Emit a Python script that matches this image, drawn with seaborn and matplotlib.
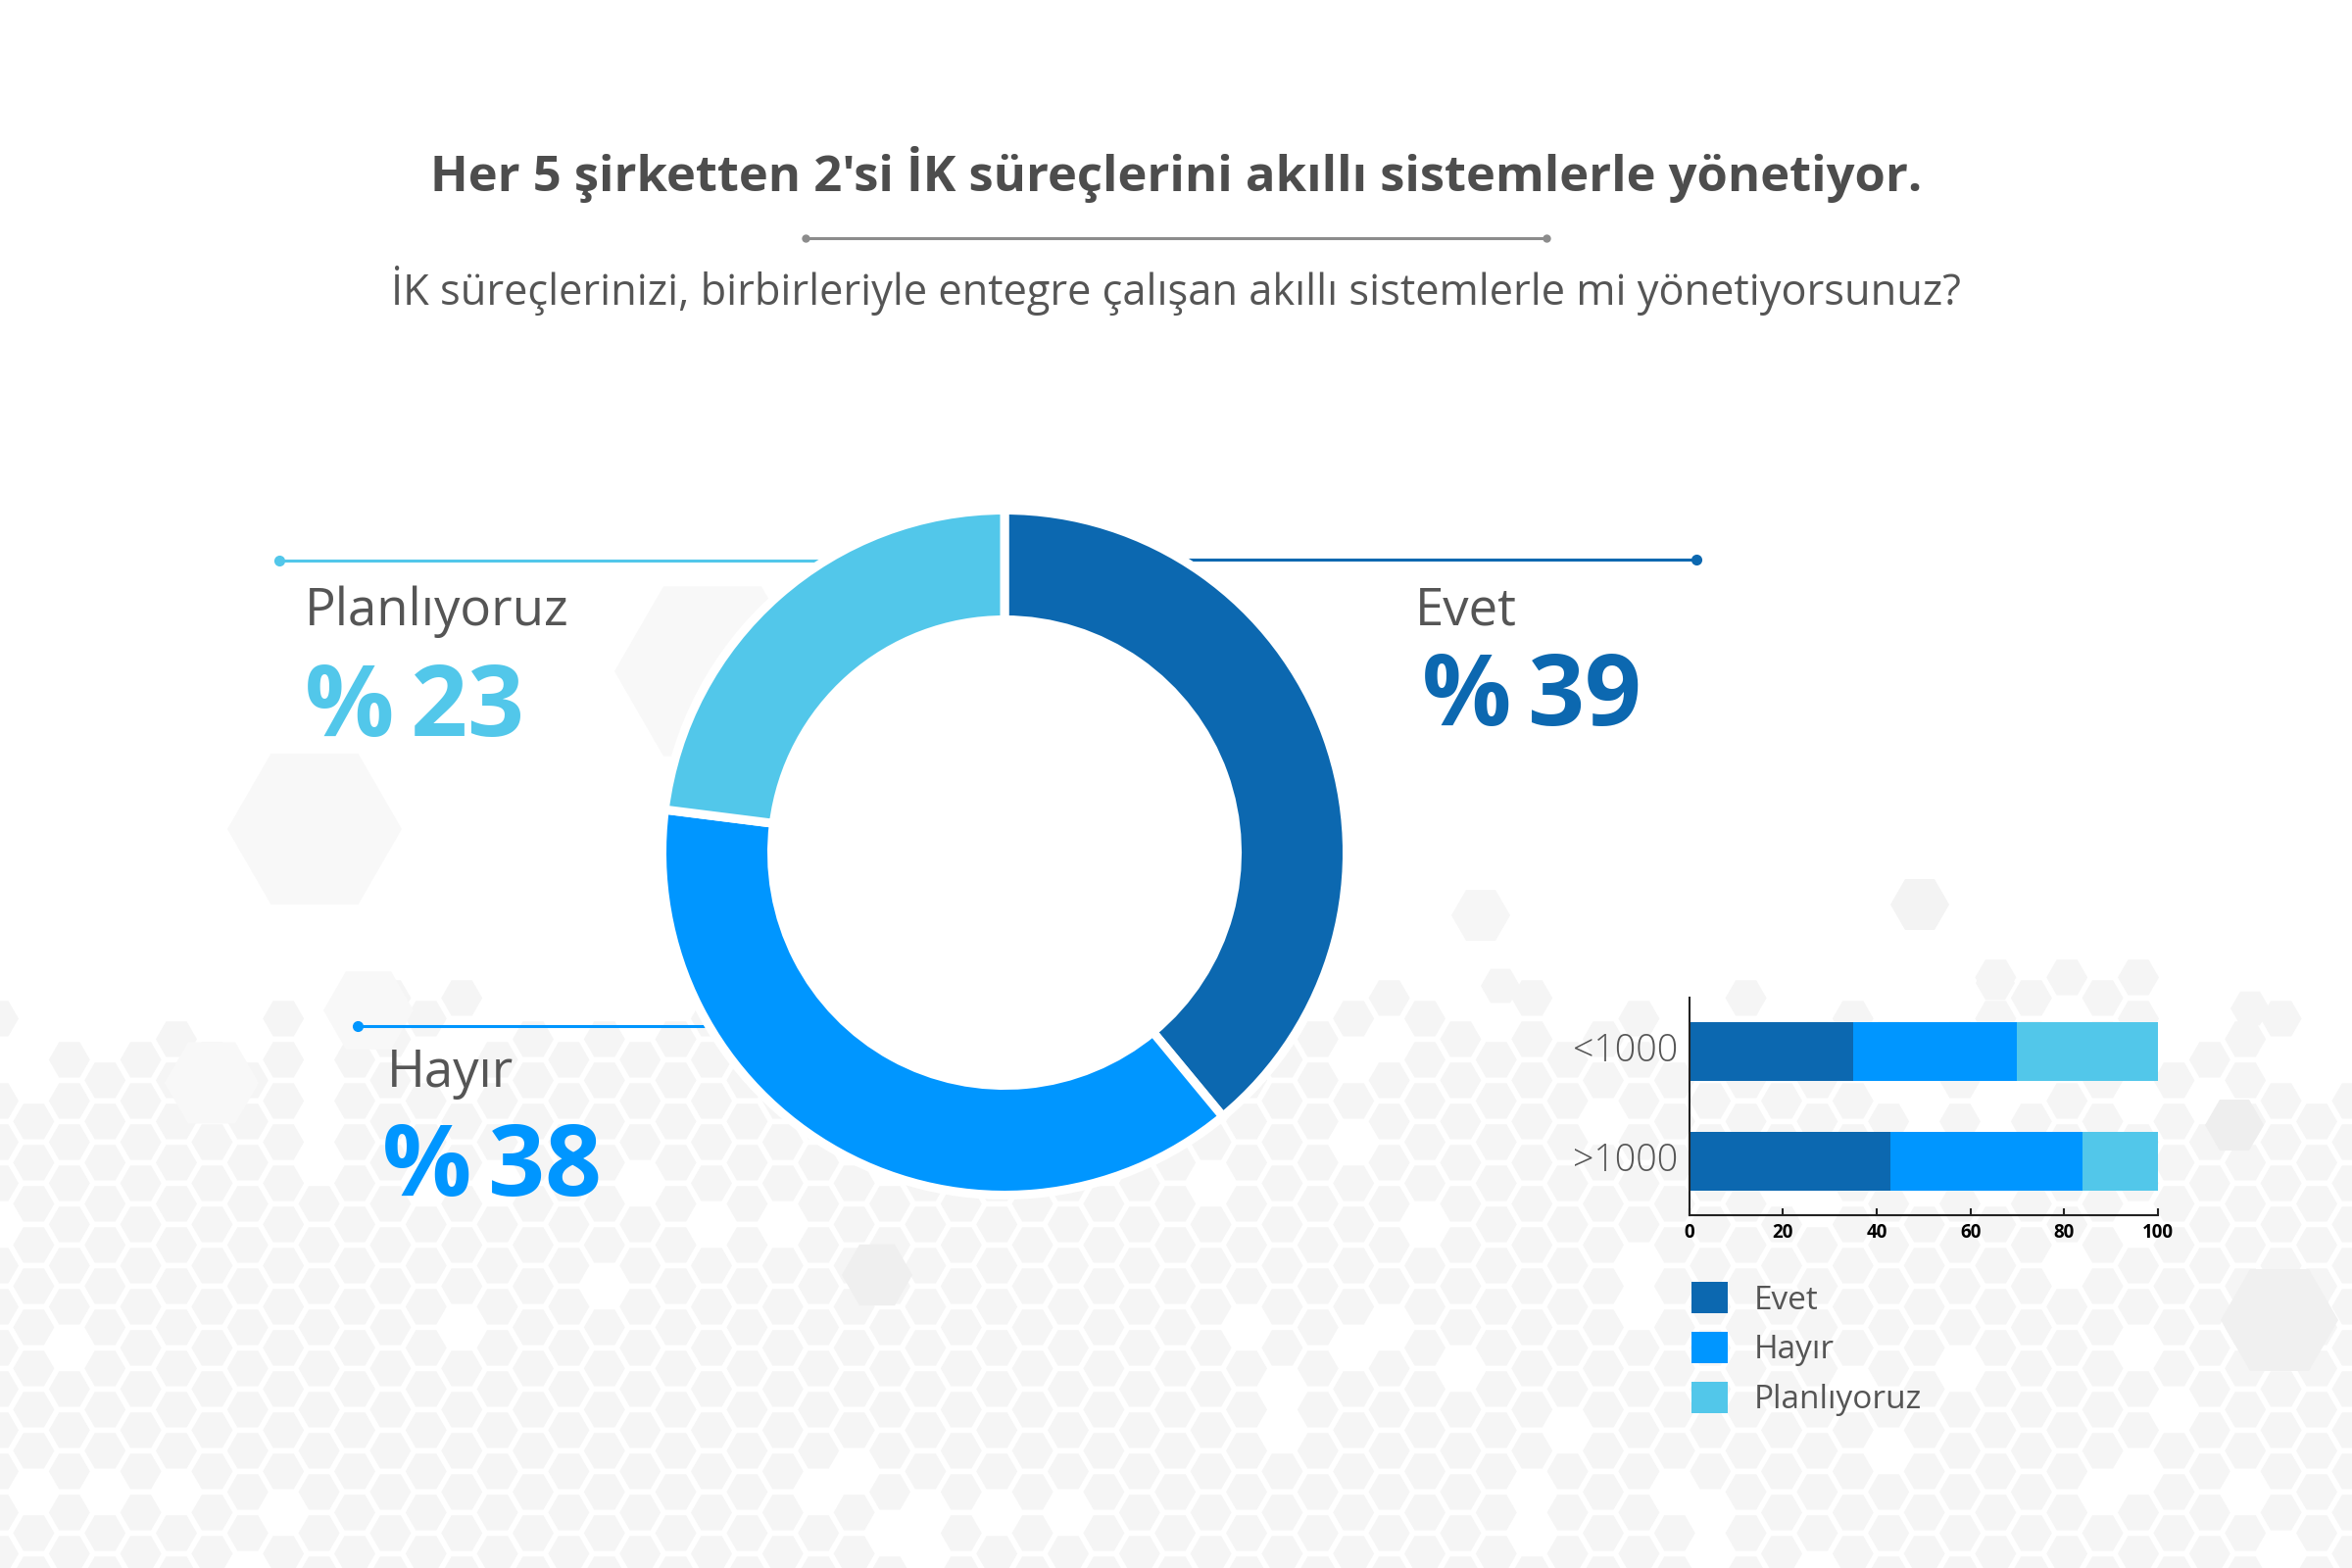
import numpy as np
import matplotlib
matplotlib.use("Agg")
import matplotlib.pyplot as plt
from matplotlib.patches import RegularPolygon, Patch, Circle
import seaborn as sns
import pandas as pd

# ---------------- data ----------------
answers = ["Evet", "Hayır", "Planlıyoruz"]
overall = [39, 38, 23]
colors = ["#0C68B0", "#0096FF", "#52C7EA"]
segments = ["<1000", ">1000"]
seg_evet = [35, 43]
seg_hayir = [35, 41]
seg_plan = [30, 16]
xticks = [0, 20, 40, 60, 80, 100]

title = "Her 5 şirketten 2'si İK süreçlerini akıllı sistemlerle yönetiyor."
subtitle = "İK süreçlerinizi, birbirleriyle entegre çalışan akıllı sistemlerle mi yönetiyorsunuz?"

# ---------------- style ----------------
sns.set_theme(style="white")
plt.rcParams['font.family'] = ['Open Sans', 'DejaVu Sans']

W, H = 2400, 1600
fig = plt.figure(figsize=(24, 16), dpi=100)
fig.patch.set_facecolor('white')


def fx(px):
    return px / W


def fy(py):
    return 1 - py / H


# ---------------- background (decorative hexagons) ----------------
bg = fig.add_axes([0, 0, 1, 1], zorder=0)
bg.set_xlim(0, W)
bg.set_ylim(H, 0)
bg.axis('off')

dx, dy, R = 36.4, 42.0, 21.0
x0, y0 = 34.4, 1186.4
for i in range(-2, int(W / dx) + 3):
    cxh = x0 + i * dx
    off = (i % 2) * dy / 2
    for k in range(-8, 14):
        cyh = y0 + off + k * dy
        if cyh < 970 or cyh > H + 30:
            continue
        h = (i * 7919 + k * 104729 + (i * i + 3) * (k + 11) * 31) % 100
        p = min(max((cyh - 975) / 150.0, 0.0), 1.0) * 93
        if h < p:
            bg.add_patch(RegularPolygon((cxh, cyh), 6, radius=R, orientation=np.pi / 6,
                                        facecolor='#F5F5F5', edgecolor='none', zorder=0))

for (hx, hy, hr, hc) in [(321, 846, 89, '#F8F8F8'), (727, 685, 100, '#F8F8F8'),
                         (216, 1105, 48, '#F8F8F8'), (376, 1031, 46, '#F8F8F8'),
                         (1511, 934, 30, '#F6F6F6'), (1959, 923, 30, '#F3F3F3'),
                         (1531, 1006, 20, '#F5F5F5'), (2036, 1003, 20, '#F5F5F5'),
                         (2296, 1029, 20, '#F5F5F5'), (2280, 1148, 30, '#EEEEEE'),
                         (895, 1301, 36, '#EFEFEF'), (2326, 1347, 60, '#F0F0F0')]:
    bg.add_patch(RegularPolygon((hx, hy), 6, radius=hr, orientation=np.pi / 6,
                                facecolor=hc, edgecolor='none', zorder=0.5))

# ---------------- titles ----------------
bg.text(1200, 195, title, ha='center', va='baseline', fontsize=36.5,
        fontweight='bold', color='#4D4D4D', zorder=5)
bg.plot([822, 1578], [243, 243], color='#8C8C8C', lw=2.2, zorder=5,
        marker='o', markersize=5, markevery=[0, 1])
bg.text(1200, 311, subtitle, ha='center', va='baseline', fontsize=31.2,
        color='#555555', zorder=5)

# ---------------- leader lines and labels ----------------
bg.plot([285, 1025], [572, 572], color=colors[2], lw=2.2, zorder=3,
        marker='o', markersize=7, markevery=[0])
bg.plot([1025, 1731], [571, 571], color=colors[0], lw=2.2, zorder=3,
        marker='o', markersize=7, markevery=[1])
bg.plot([365, 820], [1047, 1047], color=colors[1], lw=2.2, zorder=3,
        marker='o', markersize=7, markevery=[0])

label_pos = {
    "Planlıyoruz": ((311, 638), (311, 751)),
    "Evet": ((1444, 638), (1451, 740)),
    "Hayır": ((395, 1109), (390, 1220)),
}
for ans, val, col in zip(answers, overall, colors):
    (lx, ly), (vx, vy) = label_pos[ans]
    bg.text(lx, ly, ans, ha='left', va='baseline', fontsize=38,
            fontweight='normal', color='#555555', zorder=5)
    bg.text(vx, vy, f"%\u2006{val}", ha='left', va='baseline', fontsize=73,
            fontweight='bold', color=col, zorder=5)

# ---------------- donut ----------------
ccx, ccy, half = 1025, 870, 420
axd = fig.add_axes([fx(ccx - half), fy(ccy + half), 2 * half / W, 2 * half / H], zorder=2)
axd.pie(overall, colors=colors, startangle=90, counterclock=False, radius=349.5,
        wedgeprops=dict(width=112, edgecolor='white', linewidth=6.5))
axd.add_patch(Circle((0, 0), 240, facecolor='white', edgecolor='none', zorder=0))
axd.set_xlim(-half, half)
axd.set_ylim(-half, half)
axd.set_aspect('equal')
axd.axis('off')

# ---------------- stacked bars ----------------
left_px, right_px, top_px, bot_px = 1723.5, 2202, 1018, 1240
axb = fig.add_axes([fx(left_px), fy(bot_px), (right_px - left_px) / W, (bot_px - top_px) / H],
                   zorder=2)
axb.patch.set_alpha(0)
df = pd.DataFrame({'seg': segments, 'Evet': seg_evet, 'Hayır': seg_hayir,
                   'Planlıyoruz': seg_plan})
cum = df[answers].cumsum(axis=1)
for ans, col in reversed(list(zip(answers, colors))):
    d = pd.DataFrame({'seg': df['seg'], 'val': cum[ans]})
    sns.barplot(data=d, x='val', y='seg', orient='h', color=col, saturation=1,
                width=0.54, ax=axb, linewidth=0, errorbar=None)
axb.set_xlim(0, 100)
axb.set_ylim(1.49, -0.49)
axb.set_xlabel('')
axb.set_ylabel('')
sns.despine(ax=axb)
for s in ['left', 'bottom']:
    axb.spines[s].set_color('#222222')
    axb.spines[s].set_linewidth(1.5)
axb.set_xticks(xticks, labels=[str(t) for t in xticks], fontweight='bold')
axb.tick_params(axis='x', bottom=True, direction='in', length=5, width=1.5,
                color='#222222', labelsize=13.5, labelcolor='black', pad=6)
axb.tick_params(axis='y', left=False, length=0, labelsize=27, labelcolor='#555555', pad=8)
for lab in axb.get_yticklabels():
    lab.set_fontweight('light')
    lab.set_verticalalignment('center')

handles = [Patch(facecolor=c, edgecolor='none', label=a) for a, c in zip(answers, colors)]
leg = fig.legend(handles=handles, loc='upper left', bbox_to_anchor=(fx(1726), fy(1308)),
                 frameon=False, fontsize=24, handlelength=1.12, handleheight=1.12,
                 labelspacing=0.46, handletextpad=0.78, borderpad=0, borderaxespad=0,
                 labelcolor='#555555')

fig.savefig('out.png', dpi=100, facecolor='white')
